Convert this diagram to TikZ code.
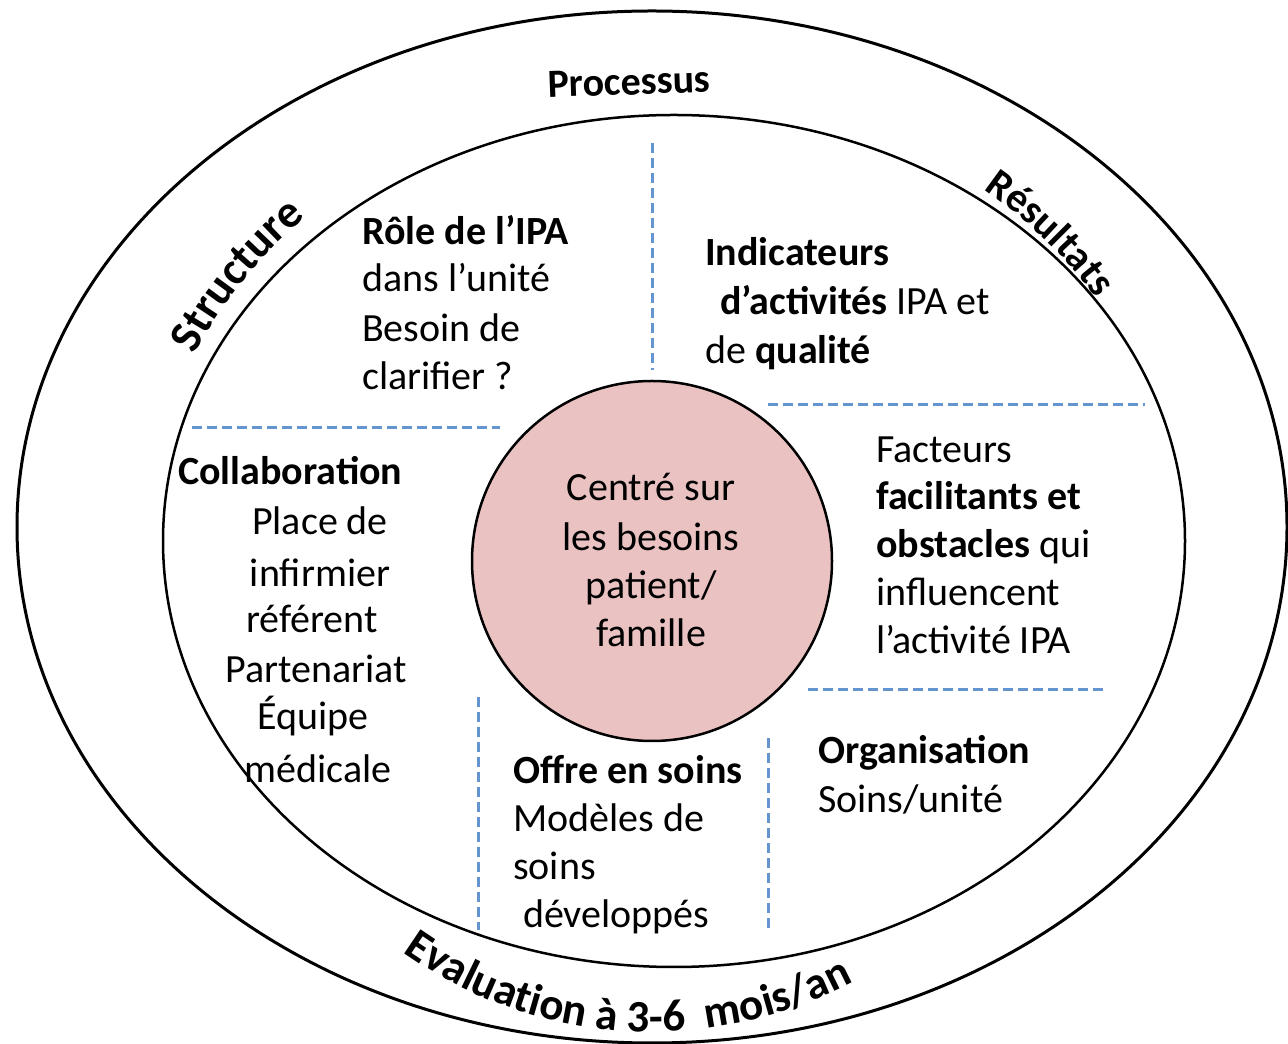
\documentclass[tikz,border=0pt]{standalone}
\usepackage{fontspec}
\setmainfont{Carlito}
\usetikzlibrary{decorations.text,calc}
\definecolor{dashblue}{RGB}{100,149,206}
\definecolor{centerpink}{RGB}{234,194,194}
\begin{document}
\begin{tikzpicture}[x=1pt,y=1pt,
  txt/.style={inner sep=0pt, anchor=base west, font=\fontsize{40}{48}\selectfont},
  ctxt/.style={inner sep=0pt, anchor=base, font=\fontsize{40}{48}\selectfont},
  divider/.style={dashblue, line width=3pt, dash pattern=on 10pt off 5pt},
  ring/.style={line width=3pt}]
\fill[white] (0,0) rectangle (1288,1044);
\useasboundingbox (0,0) rectangle (1288,1044);

% rings
\draw[ring] (652,517) ellipse [x radius=635, y radius=516];
\draw[ring, line width=2.5pt] (674,503) ellipse [x radius=511, y radius=426];
\node[circle, draw, line width=2.5pt, fill=centerpink, minimum size=360pt, inner sep=0pt] (core) at (652,483) {};

% dashed dividers
\coordinate (d1a) at (652,901); \coordinate (d1b) at (652,674);
\coordinate (d2a) at (192,616); \coordinate (d2b) at (500,616);
\coordinate (d3a) at (768,639); \coordinate (d3b) at (1145,639);
\coordinate (d4a) at (808,354); \coordinate (d4b) at (1105,354);
\coordinate (d5a) at (478,347); \coordinate (d5b) at (478,114);
\coordinate (d6a) at (768,306); \coordinate (d6b) at (768,114);
\draw[divider] (d1a) -- (d1b);
\draw[divider] (d2a) -- (d2b);
\draw[divider] (d3a) -- (d3b);
\draw[divider] (d4a) -- (d4b);
\draw[divider] (d5a) -- (d5b);
\draw[divider] (d6a) -- (d6b);

% curved labels
\coordinate (lc) at (663,510);
\path[decorate, decoration={text along path, text align=center,
  text={|\fontsize{46}{46}\selectfont\bfseries|Structure}}]
  ($(lc)+(176:512 and 442)$) arc[start angle=176, end angle=116, x radius=512, y radius=442];
\node[inner sep=0pt, rotate=2, font=\fontsize{40}{40}\selectfont\bfseries] (proc) at (629,962) {Processus};
\path[decorate, decoration={text along path, text align=center,
  text={|\fontsize{41}{41}\selectfont\bfseries|Résultats}}]
  ($(lc)+(70.8:512 and 442)$) arc[start angle=70.8, end angle=10.8, x radius=512, y radius=442];
\coordinate (ec) at (652,442);
\path[decorate, decoration={text along path, text align=center,
  text={|\fontsize{45}{45}\selectfont\bfseries|Evaluation à 3-6 {~}mois/an}}]
  ($(ec)+(216.3:430)$) arc[start angle=216.3, end angle=316.3, radius=430];

% centre
\node[ctxt] (c1) at (651,543) {Centré sur};
\node[ctxt] (c2) at (651,493) {les besoins};
\node[ctxt] (c3) at (651,445) {patient/};
\node[ctxt] (c4) at (651,397) {famille};

% role
\node[txt] (role1) at (362,799) {\textbf{Rôle de l’IPA}};
\node[txt] (role2) at (362,752) {dans l’unité};
\node[txt] (role3) at (362,702) {Besoin de};
\node[txt] (role4) at (362,654) {clarifier ?};

% indicateurs
\node[txt] (ind1) at (705,778) {\textbf{Indicateurs}};
\node[txt] (ind2) at (720,729) {\textbf{d’activités} IPA et};
\node[txt] (ind3) at (705,680) {de \textbf{qualité}};

% facteurs
\node[txt] (fac1) at (876,581) {Facteurs};
\node[txt] (fac2) at (876,534) {\textbf{facilitants et}};
\node[txt] (fac3) at (876,486) {\textbf{obstacles} qui};
\node[txt] (fac4) at (876,438) {influencent};
\node[txt] (fac5) at (876,390) {l’activité IPA};

% collaboration
\node[txt] (col1) at (178,559) {\textbf{Collaboration}};
\node[ctxt] (col2) at (320,509) {Place de};
\node[ctxt] (col3) at (320,457) {infirmier};
\node[ctxt] (col4) at (312,411) {référent};
\node[ctxt] (col5) at (316,361) {Partenariat};
\node[ctxt] (col6) at (313,314) {Équipe};
\node[ctxt] (col7) at (318,261) {médicale};

% offre
\node[txt] (off1) at (513,260) {\textbf{Offre en soins}};
\node[txt] (off2) at (513,212) {Modèles de};
\node[txt] (off3) at (513,164) {soins};
\node[txt] (off4) at (523,116) {développés};

% organisation
\node[txt] (org1) at (818,280) {\textbf{Organisation}};
\node[txt] (org2) at (818,231) {Soins/unité};
\end{tikzpicture}
\end{document}
